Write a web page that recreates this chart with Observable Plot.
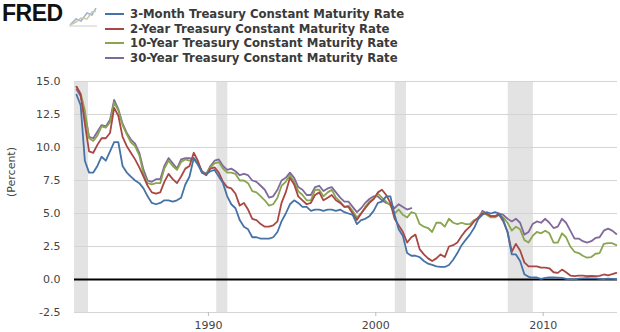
<!DOCTYPE html>
<html><head><meta charset="utf-8">
<script src="https://cdn.jsdelivr.net/npm/d3@7"></script>
<script src="https://cdn.jsdelivr.net/npm/@observablehq/plot@0.6"></script>
<style>
body{margin:0;background:#fff;width:620px;height:332px;overflow:hidden;font-family:"DejaVu Sans",Verdana,sans-serif;}
#header{position:relative;height:70px;}
#logo{position:absolute;left:2px;top:0px;font:bold 23px "Liberation Sans",Arial,sans-serif;color:#111;letter-spacing:-0.5px}
#icon{position:absolute;left:68px;top:5px}
#legend{position:absolute;left:105px;top:7px;}
.item{display:flex;align-items:center;height:14.5px;font-weight:bold;font-size:11.7px;color:#3a3a3a;white-space:nowrap}
.sw{width:19px;height:2px;margin-right:6px}
#chart svg{display:block}
</style></head>
<body>
<div id="header">
  <div id="logo">FRED</div>
  <svg id="icon" width="30" height="22" viewBox="0 0 30 22">
    <polyline points="2,20 8,14 13,16 19,8 24,10 28,3" fill="none" stroke="#9bb3d4" stroke-width="1.5"/>
    <polyline points="2,20 8,17 13,13 19,14 24,7 28,6" fill="none" stroke="#c9c9a8" stroke-width="1.5"/>
    <line x1="1" y1="21" x2="29" y2="21" stroke="#ccc"/>
  </svg>
  <div id="legend"></div>
</div>
<div id="chart"></div>
<script>
// Series names and colours
const seriesNames = [
  "3-Month Treasury Constant Maturity Rate",
  "2-Year Treasury Constant Maturity Rate",
  "10-Year Treasury Constant Maturity Rate",
  "30-Year Treasury Constant Maturity Rate"
];
const seriesColors = ["#4572A7", "#AA4643", "#89A54E", "#80699B"];

// Quarterly values, 1982 Q1 .. 2014 Q2 (percent); four values per year
const startYear = 1982;
const rate3m = [
  14.0,13.2,9.0,8.1,   8.1,8.6,9.3,9.0,    9.7,10.4,10.4,8.6,  8.1,7.8,7.5,7.3,
  6.9,6.3,5.8,5.7,     5.8,6.0,6.0,5.9,    6.0,6.2,7.2,7.8,    9.2,8.7,8.1,8.0,
  8.2,8.3,7.8,7.3,     6.3,5.7,5.4,4.5,    4.0,3.8,3.2,3.2,    3.1,3.1,3.1,3.2,
  3.6,4.4,5.0,5.7,     6.0,5.8,5.5,5.5,    5.2,5.3,5.3,5.2,    5.3,5.3,5.2,5.3,
  5.1,5.0,4.9,4.2,     4.5,4.6,4.8,5.2,    5.8,5.9,6.3,6.3,    4.9,3.8,3.3,2.0,
  1.8,1.8,1.7,1.4,     1.2,1.1,1.0,0.95,   0.95,1.1,1.5,2.0,   2.6,3.0,3.4,3.9,
  4.6,4.9,5.1,5.0,     5.1,5.0,4.5,3.6,    1.9,1.9,1.4,0.4,    0.2,0.15,0.15,0.05,
  0.12,0.15,0.15,0.14, 0.13,0.05,0.02,0.01, 0.07,0.09,0.10,0.09, 0.09,0.05,0.03,0.06,
  0.05,0.03
];
const rate2y = [
  14.6,14.0,11.8,9.7,  9.6,10.2,10.7,10.7, 11.1,13.0,12.4,10.8, 10.1,9.6,9.1,8.5,
  7.8,7.1,6.6,6.5,     6.6,7.4,8.0,7.6,    7.3,7.8,8.4,8.6,    9.6,9.0,8.1,7.9,
  8.4,8.5,8.1,7.4,     7.0,6.9,6.5,5.6,    5.8,5.3,4.6,4.5,    4.2,4.0,4.0,4.1,
  4.4,5.8,6.6,7.7,     7.2,6.3,6.0,5.7,    5.8,6.4,6.6,6.0,    6.2,6.4,6.0,5.8,
  5.5,5.5,5.0,4.5,     5.0,5.4,5.8,6.1,    6.6,6.8,6.4,5.8,    4.6,4.1,3.6,2.8,
  3.2,3.4,2.3,1.9,     1.6,1.4,1.6,1.9,    1.7,2.5,2.6,2.8,    3.3,3.7,4.0,4.4,
  4.7,5.0,5.0,4.8,     4.8,4.9,4.4,3.6,    2.1,2.7,2.2,1.3,    1.0,1.0,1.0,0.9,
  0.9,0.85,0.55,0.5,   0.75,0.55,0.3,0.25, 0.3,0.3,0.25,0.27,  0.26,0.27,0.38,0.32,
  0.4,0.5
];
const rate10y = [
  14.6,14.1,12.8,10.7, 10.5,10.9,11.6,11.5, 11.9,13.4,12.8,11.7, 11.0,10.4,10.1,9.4,
  8.0,7.3,7.2,7.3,     7.3,8.4,9.0,8.6,    8.3,8.9,9.1,9.0,    9.2,8.9,8.1,8.0,
  8.5,8.8,8.9,8.4,     8.1,8.1,8.0,7.5,    7.5,7.3,6.7,6.6,    6.3,6.0,5.6,5.7,
  6.2,7.1,7.4,7.9,     7.4,6.7,6.4,6.0,    6.0,6.8,6.8,6.3,    6.6,6.8,6.2,5.9,
  5.5,5.6,5.2,4.7,     5.0,5.5,5.9,6.1,    6.5,6.2,5.9,5.6,    5.0,5.3,4.9,4.7,
  5.1,5.0,4.2,4.0,     3.9,3.6,4.3,4.3,    4.0,4.6,4.3,4.2,    4.3,4.2,4.2,4.5,
  4.6,5.1,4.9,4.7,     4.7,4.9,4.7,4.3,    3.7,4.0,3.8,3.0,    2.8,3.3,3.6,3.5,
  3.7,3.5,2.8,2.8,     3.5,3.2,2.5,2.1,    2.0,1.8,1.65,1.7,   1.95,2.0,2.7,2.75,
  2.75,2.6
];
const rate30y = [
  14.4,13.9,12.5,10.8, 10.7,11.2,11.7,11.6, 12.1,13.6,12.9,11.8, 11.1,10.6,10.3,9.6,
  8.3,7.5,7.4,7.6,     7.6,8.6,9.2,8.8,    8.4,9.1,9.2,9.2,    9.1,8.8,8.2,8.0,
  8.6,9.0,9.1,8.6,     8.3,8.4,8.2,7.9,    8.0,7.9,7.5,7.4,    7.1,6.8,6.2,6.3,
  6.8,7.5,7.7,8.1,     7.7,7.0,6.8,6.4,    6.4,7.0,7.1,6.7,    6.9,7.0,6.6,6.2,
  5.9,5.9,5.5,5.1,     5.4,5.8,6.1,6.3,    6.3,6.0,5.8,5.7,    5.4,5.7,5.5,5.3,
  5.4,null,null,null,  null,null,null,null, null,null,null,null, null,null,null,null,
  4.6,5.2,5.0,4.8,     4.8,5.0,4.9,4.6,    4.4,4.6,4.3,3.4,    3.6,4.2,4.4,4.3,
  4.6,4.3,3.9,4.0,     4.6,4.3,3.7,3.1,    3.1,2.9,2.8,2.9,    3.15,3.2,3.7,3.85,
  3.7,3.45
];

// NBER recessions
const recessionStart = ["1981-07-01", "1990-07-01", "2001-03-01", "2007-12-01"];
const recessionEnd   = ["1982-11-01", "1991-03-01", "2001-11-01", "2009-06-01"];

const yTicks = [-2.5, 0, 2.5, 5, 7.5, 10, 12.5, 15];
const xTickYears = [1990, 2000, 2010];

// ---- build tables ----
const allSeries = [rate3m, rate2y, rate10y, rate30y];
const quarterDate = i => new Date(Date.UTC(startYear + Math.floor(i / 4), (i % 4) * 3 + 1, 15));
const tables = allSeries.map((vals, s) => vals.map((v, i) => ({date: quarterDate(i), value: v, series: seriesNames[s]})));
const recessions = recessionStart.map((s, i) => ({start: new Date(s), end: new Date(recessionEnd[i])}));
const xTicks = xTickYears.map(y => new Date(Date.UTC(y, 0, 1)));

// legend
const legend = document.getElementById("legend");
seriesNames.forEach((n, i) => {
  const d = document.createElement("div");
  d.className = "item";
  d.innerHTML = `<span class="sw" style="background:${seriesColors[i]}"></span><span>${n}</span>`;
  legend.appendChild(d);
});

const lineMarks = [3, 2, 1, 0].map(s => Plot.line(tables[s], {
  x: "date", y: "value", stroke: seriesColors[s], strokeWidth: 1.8,
  defined: d => d.value != null
}));

const chart = Plot.plot({
  width: 620, height: 262,
  marginTop: 11, marginBottom: 20, marginLeft: 74, marginRight: 3,
  style: {fontFamily: "DejaVu Sans, Verdana, sans-serif", fontSize: "11px", color: "#444", background: "#fff", overflow: "visible"},
  x: {type: "utc", domain: [new Date(Date.UTC(1982, 0, 1)), new Date(Date.UTC(2014, 5, 10))]},
  y: {domain: [-2.5, 15]},
  marks: [
    Plot.rectX(recessions, {x1: "start", x2: "end", fill: "#e3e3e3", clip: true}),
    Plot.gridY(yTicks, {stroke: "#d4d4d4", strokeOpacity: 1}),
    Plot.ruleY([0], {stroke: "#000", strokeWidth: 2}),
    ...lineMarks,
    Plot.axisY(yTicks, {tickFormat: d => d.toFixed(1), tickSize: 0, tickPadding: 14, label: null}),
    Plot.axisX(xTicks, {tickFormat: d => String(d.getUTCFullYear()), tickSize: 4, tickPadding: 5, label: null, stroke: "#bbb"}),
    Plot.text(["(Percent)"], {frameAnchor: "left", dx: -63, rotate: -90, fill: "#444", fontSize: 11})
  ]
});
document.getElementById("chart").appendChild(chart);
</script>
</body></html>
